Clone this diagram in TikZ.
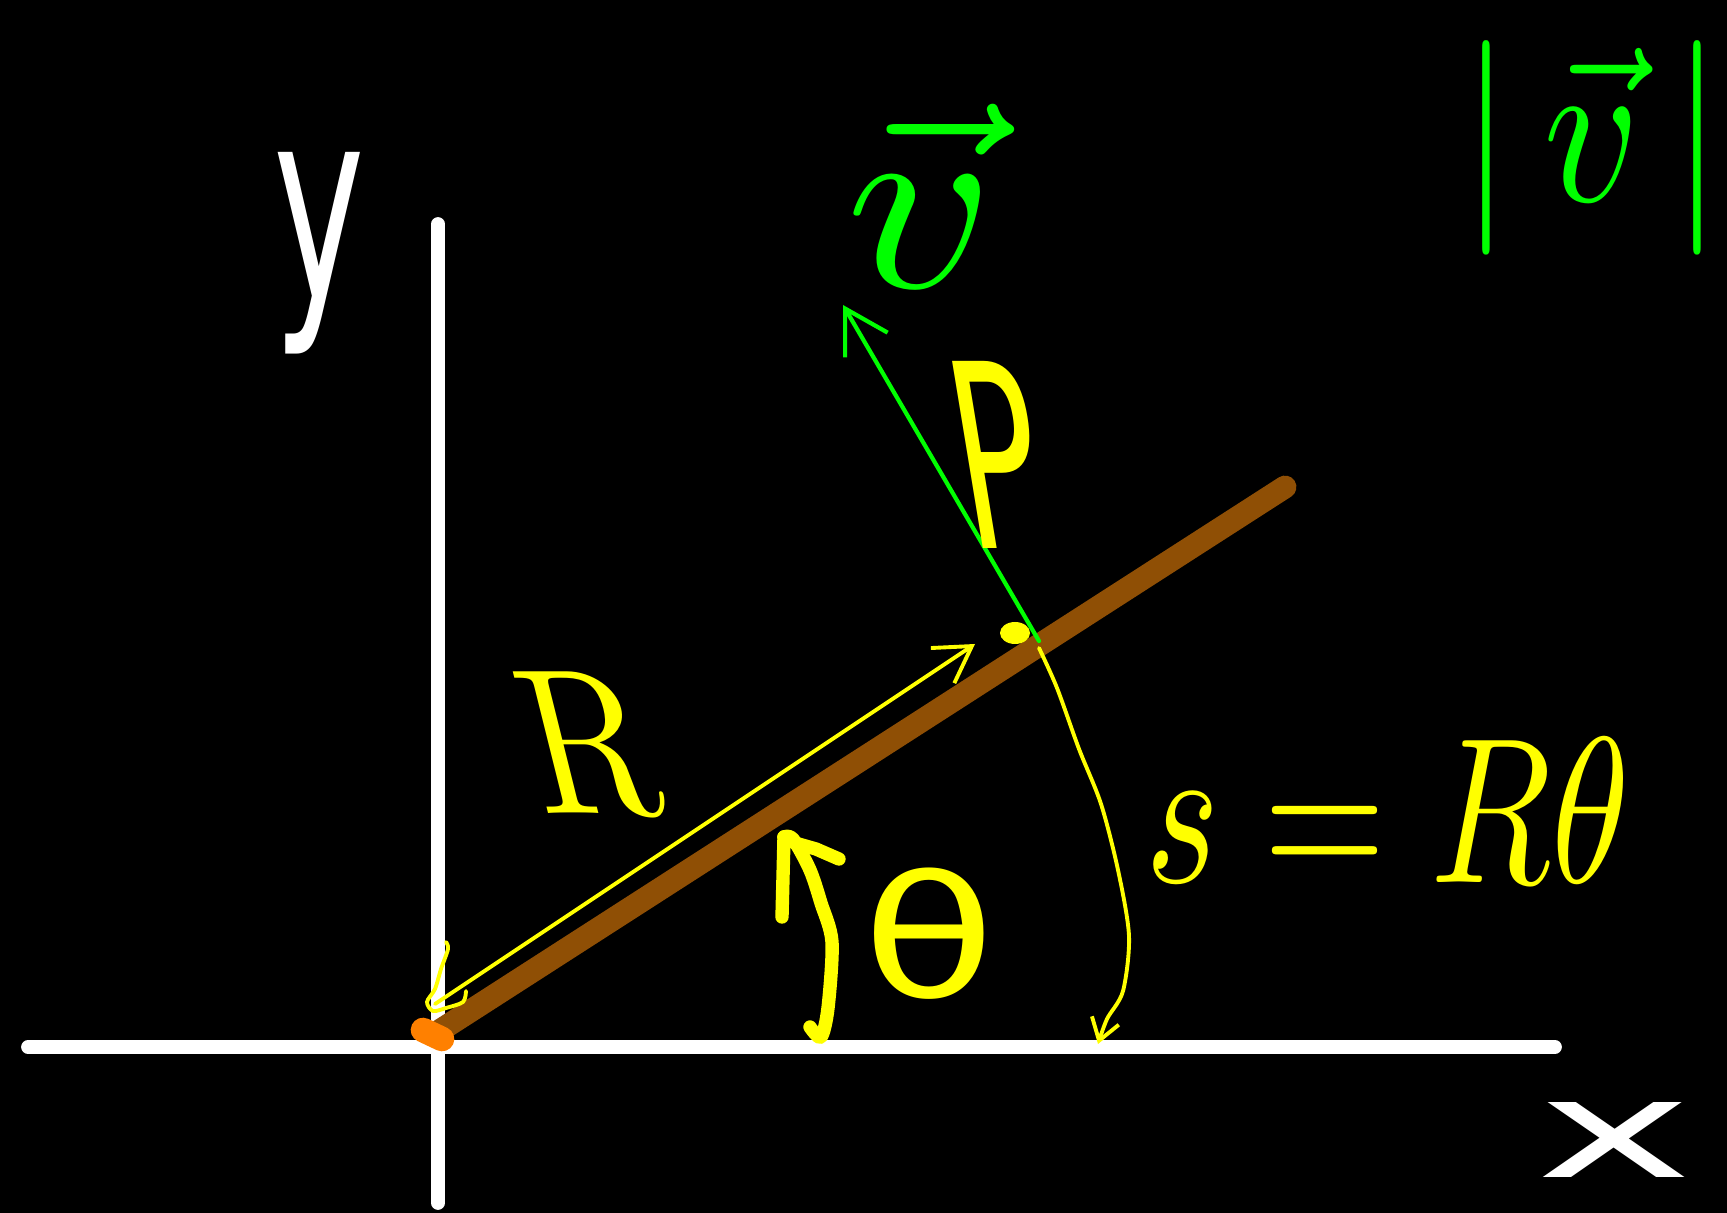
\documentclass[tikz,border=0pt]{standalone}
\usepackage{amsmath}
\usepackage{fontspec}
\newfontfamily\handfont{DejaVu Sans}
\usetikzlibrary{arrows.meta}
\definecolor{hy}{RGB}{255,255,0}
\definecolor{hg}{RGB}{0,255,0}
\definecolor{rodbrown}{RGB}{143,79,5}
\definecolor{blobor}{RGB}{255,128,0}
\begin{document}
\begin{tikzpicture}[x=0.01cm,y=-0.01cm,
  axis/.style={white,line width=3.9pt,line cap=round},
  rod/.style={rodbrown,line width=6.5pt,line cap=round},
  thinyel/.style={hy,line width=1.1pt,line join=round,line cap=round},
  thickyel/.style={hy,line width=3.8pt,line join=round,line cap=round},
  grn/.style={hg,line width=1.2pt,line cap=round,line join=round},
  lbl/.style={inner sep=0pt,outer sep=0pt},
  hand/.style={inner sep=0pt,outer sep=0pt,font=\handfont},
]
\fill[black] (0,0) rectangle (1727,1213);
\useasboundingbox (0,0) rectangle (1727,1213);
% axes
\coordinate (O) at (438,1047);
\coordinate (XL) at (28,1047);
\coordinate (XR) at (1555,1047);
\coordinate (YT) at (438,224);
\coordinate (YB) at (438,1203);
\draw[axis] (XL) -- (XR);
\draw[axis] (YB) -- (YT);
% rod
\coordinate (RA) at (433,1035);
\coordinate (RB) at (1285,487);
\draw[rod] (RA) -- (RB);
\coordinate (OB1) at (423,1030);
\coordinate (OB2) at (442,1039);
\draw[blobor,line width=7pt,line cap=round] (OB1) -- (OB2);
% point P marker
\coordinate (D) at (1015,633);
\fill[hy] (D) ellipse [x radius=15, y radius=11];
% velocity vector
\coordinate (Q) at (1039,641);
\coordinate (VT) at (843,305);
\draw[grn,-{Straight Barb[length=12pt,width=14pt]}] (Q) -- (VT);
% R arrow
\coordinate (RS) at (435,1004);
\coordinate (RE) at (975,644);
\draw[thinyel,-{Straight Barb[length=10pt,width=12pt]}] (RS) -- (RE);
\draw[thinyel] plot[smooth] coordinates {(446,942) (448,949) (441,969) (435,989) (427,1002) (433,1011) (446,1008) (463,1002) (466,991)};
% arc s
\coordinate (AS) at (1039,648);
\coordinate (AE) at (1098,1044);
\draw[thinyel,-{Straight Barb[length=6pt,width=8pt]}] plot[smooth] coordinates {(1039,648) (1057,688) (1079,749) (1101,804) (1118,870) (1129,936) (1123,991) (1107,1019) (1098,1044)};
% theta arrow
\coordinate (TT) at (784,837);
\coordinate (TB1) at (782,917);
\coordinate (TB2) at (839,859);
\draw[thickyel] plot[smooth] coordinates {(810,1027) (821,1037) (828,1008) (832,942) (821,903) (810,870) (793,839) (784,837)};
\draw[thickyel] (TT) -- (TB1);
\draw[thickyel] (TT) -- (795,843) -- (816,849) -- (TB2);
% labels
\node[hand,white,xscale=4.4,yscale=7.6] (ylab) at (319,253) {y};
\node[hand,white,xscale=7.6,yscale=3.9] (xlab) at (1615,1140) {x};
\node[hand,hy,xscale=4,yscale=7.3,xslant=-0.3] (plab) at (997,455) {P};
\node[lbl,hy,xscale=4.9,yscale=5.9,xslant=-0.3] (rlab) at (589,745) {R};
\node[hand,hy,xscale=6.2,yscale=4.8] (thlab) at (929,934) {θ};
\node[lbl,hg,xscale=4.5,yscale=5.9,hy] (eq) at (1388,810) {$s = R\theta$};
\node[lbl,hg,xscale=8.2,yscale=7.3] (vlab) at (921,196) {$\vec{v}$};
\node[lbl,hg,xscale=5.3,yscale=6.1] (vmag) at (1592,148) {$|\,\vec{v}\,|$};
\end{tikzpicture}
\end{document}
